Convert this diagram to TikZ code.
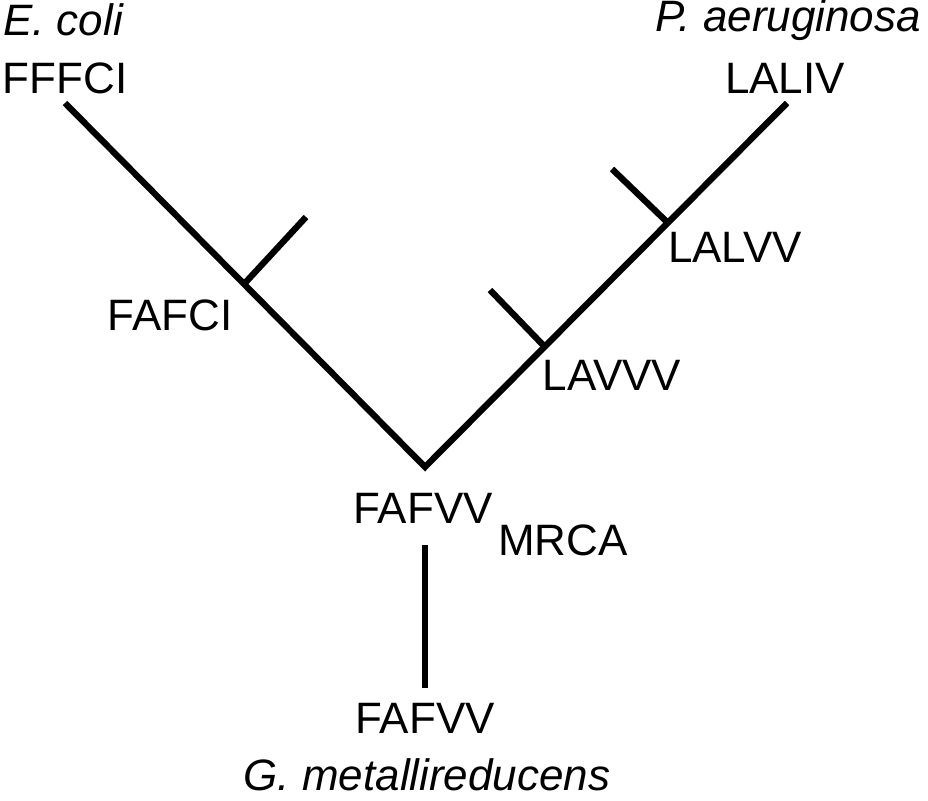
\documentclass[tikz,border=0pt]{standalone}
\usepackage{fontspec}
\setmainfont{Liberation Sans}
\begin{document}
\begin{tikzpicture}[x=0.01cm,y=-0.01cm,
    branch/.style={line width=1.8pt},
    lbl/.style={font=\fontsize{12.5}{14}\selectfont, inner sep=0pt}]
      \useasboundingbox (0,0) rectangle (928,800);
      % tree points
      \coordinate (root) at (425,467);
      \coordinate (ecoli) at (65,103);
      \coordinate (paer) at (787,103);
      \coordinate (nfafci) at (245,283);
      \coordinate (tfafci) at (306,217);
      \coordinate (nlalvv) at (667,222);
      \coordinate (tlalvv) at (612,169);
      \coordinate (nlavvv) at (544,346);
      \coordinate (tlavvv) at (490,290);
      \coordinate (gtop) at (425,545);
      \coordinate (gbot) at (425,688);

      \draw[branch] (ecoli) -- (root) -- (paer);
      \draw[branch] (nfafci) -- (tfafci);
      \draw[branch] (nlalvv) -- (tlalvv);
      \draw[branch] (nlavvv) -- (tlavvv);
      \draw[branch] (gtop) -- (gbot);

      % labels
      \node[lbl] (sp1) at (63,20) {\itshape E. coli};
      \node[lbl] (s1) at (65,78) {FFFCI};
      \node[lbl] (sp2) at (788,20) {\itshape P. aeruginosa};
      \node[lbl] (s2) at (785,78) {LALIV};
      \node[lbl] (s3) at (735,247) {LALVV};
      \node[lbl] (s4) at (170,315) {FAFCI};
      \node[lbl] (s5) at (612,375) {LAVVV};
      \node[lbl] (s6) at (423,508) {FAFVV};
      \node[lbl] (mrca) at (563,540) {MRCA};
      \node[lbl] (s7) at (425,718) {FAFVV};
      \node[lbl] (sp3) at (427,775) {\itshape G. metallireducens};
\end{tikzpicture}
\end{document}
